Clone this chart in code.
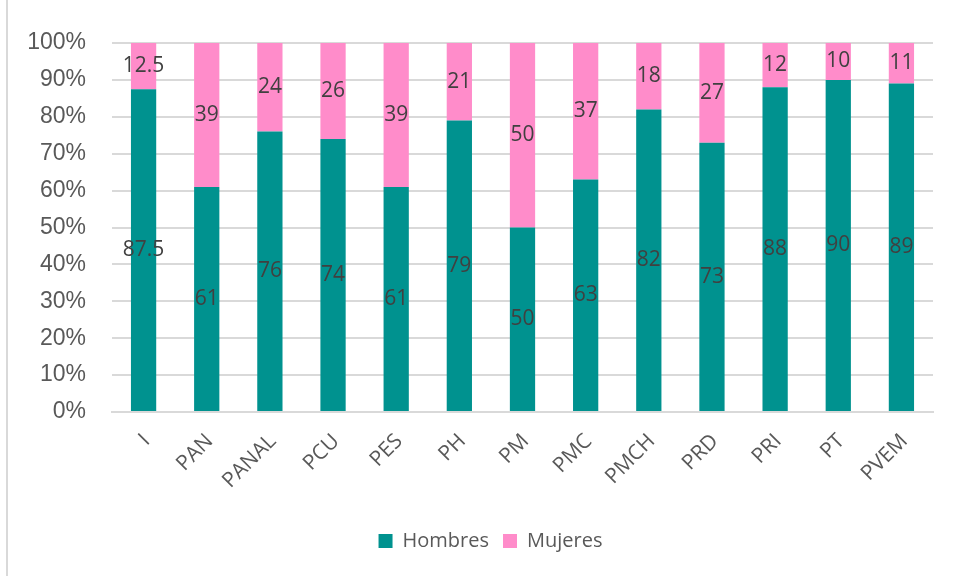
<!DOCTYPE html>
<html>
<head>
<meta charset="utf-8">
<script src="https://cdn.jsdelivr.net/npm/chart.js@4"></script>
<style>
  body { margin: 0; background: #fff; }
  #wrap { position: relative; width: 955px; height: 576px; }
  #edge { position: absolute; left: 6px; top: 0; width: 2px; height: 576px; background: #d9d9d9; }
</style>
</head>
<body>
<div id="wrap">
  <canvas id="myChart" width="955" height="576"></canvas>
  <div id="edge"></div>
</div>
<script>
// partidos
const partidos = ["I", "PAN", "PANAL", "PCU", "PES", "PH", "PM", "PMC", "PMCH", "PRD", "PRI", "PT", "PVEM"];
const hombres = [87.5, 61, 76, 74, 61, 79, 50, 63, 82, 73, 88, 90, 89];
const mujeres = [12.5, 39, 24, 26, 39, 21, 50, 37, 18, 27, 12, 10, 11];
const yTicks = [0, 10, 20, 30, 40, 50, 60, 70, 80, 90, 100];

// draws the value in the middle of each segment
const segmentLabels = {
    id: "segmentLabels",
    afterDatasetsDraw(chart) {
        const ctx = chart.ctx;
        ctx.save();
        ctx.font = "21px 'Open Sans'";
        ctx.fillStyle = "#404040";
        ctx.textAlign = "center";
        ctx.textBaseline = "middle";
        chart.data.datasets.forEach((ds, i) => {
            chart.getDatasetMeta(i).data.forEach((bar, j) => {
                ctx.fillText(String(ds.data[j]), bar.x, (bar.y + bar.base) / 2);
            });
        });
        ctx.restore();
    },
};

// nudge the legend a bit to the right, like the original
const legendShift = {
    id: "legendShift",
    afterLayout(chart) {
        chart.legend.left += 19;
        chart.legend.right += 19;
    },
};

const ctx = document.getElementById("myChart").getContext("2d");
new window.Chart(ctx, {
    type: "bar",
    data: {
        labels: partidos,
        datasets: [
            {
                label: "Hombres",
                backgroundColor: "#00928f",
                data: hombres,
            },
            {
                label: "Mujeres",
                backgroundColor: "#ff8cca",
                data: mujeres,
            },
        ],
    },
    plugins: [segmentLabels, legendShift],
    options: {
        responsive: false,
        devicePixelRatio: 1,
        animation: false,
        layout: {
            padding: { left: 10, right: 22, top: 43, bottom: 15 },
        },
        datasets: {
            bar: { barPercentage: 0.4, categoryPercentage: 1 },
        },
        plugins: {
            tooltip: { enabled: false },
            legend: {
                position: "bottom",
                labels: {
                    font: { family: "'Open Sans'", size: 20 },
                    color: "#595959",
                    boxWidth: 14,
                    boxHeight: 14,
                    padding: 14,
                },
            },
        },
        scales: {
            x: {
                stacked: true,
                grid: { display: false },
                border: { display: true, color: "#d9d9d9", width: 2 },
                ticks: {
                    minRotation: 45,
                    maxRotation: 45,
                    padding: 9,
                    labelOffset: 3,
                    color: "#595959",
                    font: { family: "'Open Sans'", size: 21 },
                },
                afterFit: (scale) => {
                    scale.height = 105;
                },
            },
            y: {
                stacked: true,
                min: 0,
                max: 100,
                afterBuildTicks: (scale) => {
                    scale.ticks = yTicks.map((v) => ({ value: v }));
                },
                afterFit: (scale) => {
                    scale.width = 102;
                },
                grid: { color: "#d9d9d9", lineWidth: 2, drawTicks: false },
                border: { display: false },
                ticks: {
                    padding: 26,
                    color: "#595959",
                    font: { family: "'Liberation Sans'", size: 23 },
                    callback: (v) => v + "%",
                },
            },
        },
    },
});
</script>
</body>
</html>
